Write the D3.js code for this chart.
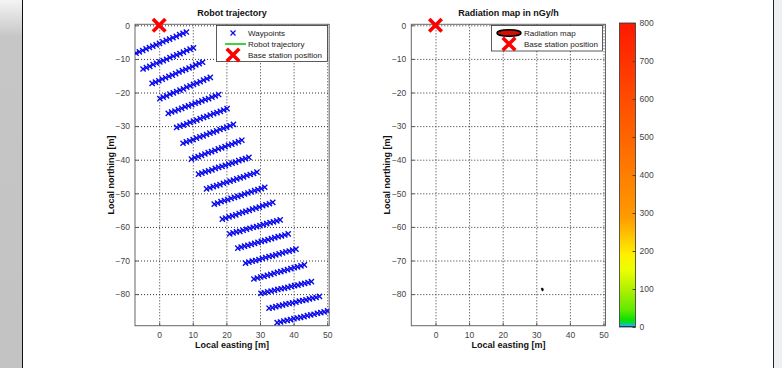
<!DOCTYPE html>
<html>
<head>
<meta charset="utf-8">
<script src="https://cdn.jsdelivr.net/npm/d3@7"></script>
<style>
  body { margin: 0; background: #fff; }
  text { font-family: "Liberation Sans", Arial, sans-serif; }
</style>
</head>
<body>
<script>
// Waypoints, one row per survey lane (easting / northing in m)
const laneEasting = [
  [-6.9,-5.9,-4.9,-3.9,-2.9,-1.9,-0.9,0.1,1.1,2.1,3.1,4.1,5.1,6.1,7.1,8.1],
  [-4.8,-3.8,-2.8,-1.8,-0.8,0.2,1.2,2.2,3.2,4.2,5.2,6.2,7.2,8.2,9.2,10.2],
  [-2.1,-1.1,-0.1,0.9,1.9,2.9,3.9,4.9,5.9,6.9,7.9,8.9,9.9,10.9,11.9,12.9],
  [0.2,1.2,2.2,3.2,4.2,5.2,6.2,7.2,8.2,9.2,10.2,11.2,12.2,13.2,14.2,15.2],
  [2.7,3.7,4.7,5.7,6.7,7.7,8.7,9.7,10.7,11.7,12.7,13.7,14.7,15.7,16.7,17.7],
  [5.2,6.2,7.2,8.2,9.2,10.2,11.2,12.2,13.2,14.2,15.2,16.2,17.2,18.2,19.2,20.2],
  [7.1,8.1,9.1,10.1,11.1,12.1,13.1,14.1,15.1,16.1,17.1,18.1,19.1,20.1,21.1,22.1],
  [9.6,10.6,11.6,12.6,13.6,14.6,15.6,16.6,17.6,18.6,19.6,20.6,21.6,22.6,23.6,24.6],
  [11.7,12.7,13.7,14.7,15.7,16.7,17.7,18.7,19.7,20.7,21.7,22.7,23.7,24.7,25.7,26.7],
  [14.1,15.1,16.1,17.1,18.1,19.1,20.1,21.1,22.1,23.1,24.1,25.1,26.1,27.1,28.1,29.1],
  [16.4,17.4,18.4,19.4,20.4,21.4,22.4,23.4,24.4,25.4,26.4,27.4,28.4,29.4,30.4,31.4],
  [18.8,19.8,20.8,21.8,22.8,23.8,24.8,25.8,26.8,27.8,28.8,29.8,30.8,31.8,32.8,33.8],
  [21.0,22.0,23.0,24.0,25.0,26.0,27.0,28.0,29.0,30.0,31.0,32.0,33.0,34.0,35.0,36.0],
  [23.4,24.4,25.4,26.4,27.4,28.4,29.4,30.4,31.4,32.4,33.4,34.4,35.4,36.4,37.4,38.4],
  [25.7,26.7,27.7,28.7,29.7,30.7,31.7,32.7,33.7,34.7,35.7,36.7,37.7,38.7,39.7,40.7],
  [28.2,29.2,30.2,31.2,32.2,33.2,34.2,35.2,36.2,37.2,38.2,39.2,40.2,41.2,42.2,43.2],
  [30.3,31.3,32.3,33.3,34.3,35.3,36.3,37.3,38.3,39.3,40.3,41.3,42.3,43.3,44.3,45.3],
  [32.7,33.7,34.7,35.7,36.7,37.7,38.7,39.7,40.7,41.7,42.7,43.7,44.7,45.7,46.7,47.7],
  [35.1,36.1,37.1,38.1,39.1,40.1,41.1,42.1,43.1,44.1,45.1,46.1,47.1,48.1,49.1,50.1]
];
const laneNorthing = [
  [-8.3,-7.9,-7.5,-7.0,-6.6,-6.2,-5.8,-5.4,-4.9,-4.5,-4.1,-3.7,-3.3,-2.8,-2.4,-2.0],
  [-13.0,-12.6,-12.2,-11.7,-11.3,-10.9,-10.5,-10.1,-9.6,-9.2,-8.8,-8.4,-8.0,-7.5,-7.1,-6.7],
  [-17.3,-16.9,-16.5,-16.0,-15.6,-15.2,-14.8,-14.4,-13.9,-13.5,-13.1,-12.7,-12.3,-11.8,-11.4,-11.0],
  [-21.8,-21.4,-21.0,-20.5,-20.1,-19.7,-19.3,-18.9,-18.4,-18.0,-17.6,-17.2,-16.8,-16.3,-15.9,-15.5],
  [-26.2,-25.8,-25.5,-25.1,-24.7,-24.3,-24.0,-23.6,-23.2,-22.9,-22.5,-22.1,-21.8,-21.4,-21.0,-20.6],
  [-30.4,-30.0,-29.7,-29.3,-28.9,-28.5,-28.2,-27.8,-27.4,-27.1,-26.7,-26.3,-26.0,-25.6,-25.2,-24.8],
  [-35.1,-34.7,-34.4,-34.0,-33.6,-33.2,-32.9,-32.5,-32.1,-31.8,-31.4,-31.0,-30.7,-30.3,-29.9,-29.5],
  [-39.8,-39.4,-39.1,-38.7,-38.3,-37.9,-37.6,-37.2,-36.8,-36.5,-36.1,-35.7,-35.4,-35.0,-34.6,-34.2],
  [-44.3,-44.0,-43.6,-43.3,-43.0,-42.6,-42.3,-42.0,-41.7,-41.3,-41.0,-40.7,-40.3,-40.0,-39.7,-39.3],
  [-48.7,-48.4,-48.0,-47.7,-47.4,-47.0,-46.7,-46.4,-46.1,-45.7,-45.4,-45.1,-44.7,-44.4,-44.1,-43.7],
  [-53.2,-52.9,-52.5,-52.2,-51.9,-51.5,-51.2,-50.9,-50.6,-50.2,-49.9,-49.6,-49.2,-48.9,-48.6,-48.2],
  [-57.7,-57.4,-57.0,-56.7,-56.4,-56.0,-55.7,-55.4,-55.1,-54.7,-54.4,-54.1,-53.7,-53.4,-53.1,-52.7],
  [-62.1,-61.8,-61.5,-61.3,-61.0,-60.7,-60.4,-60.1,-59.9,-59.6,-59.3,-59.0,-58.7,-58.5,-58.2,-57.9],
  [-66.3,-66.0,-65.7,-65.5,-65.2,-64.9,-64.6,-64.3,-64.1,-63.8,-63.5,-63.2,-62.9,-62.7,-62.4,-62.1],
  [-70.8,-70.5,-70.2,-70.0,-69.7,-69.4,-69.1,-68.8,-68.6,-68.3,-68.0,-67.7,-67.4,-67.2,-66.9,-66.6],
  [-75.5,-75.2,-74.9,-74.7,-74.4,-74.1,-73.8,-73.5,-73.3,-73.0,-72.7,-72.4,-72.1,-71.9,-71.6,-71.3],
  [-79.8,-79.6,-79.3,-79.1,-78.9,-78.6,-78.4,-78.2,-78.0,-77.7,-77.5,-77.3,-77.0,-76.8,-76.6,-76.3],
  [-84.2,-84.0,-83.7,-83.5,-83.3,-83.0,-82.8,-82.6,-82.4,-82.1,-81.9,-81.7,-81.4,-81.2,-81.0,-80.7],
  [-88.5,-88.3,-88.0,-87.8,-87.6,-87.3,-87.1,-86.9,-86.7,-86.4,-86.2,-86.0,-85.7,-85.5,-85.3,-85.0]
];

// Recorded robot trajectory (only the first metres are visible)
const trajectoryE = [-7.3, -6.9, -5.9];
const trajectoryN = [-8.6, -8.3, -7.9];

const baseStationE = 0;
const baseStationN = 0;

// Radiation hotspot contour (tiny blob)
const hotspotE = [31.5, 31.9, 32.1, 31.9, 31.6];
const hotspotN = [-78.3, -78.2, -78.7, -79.1, -78.8];

const xTicks = [0, 10, 20, 30, 40, 50];
const yTicks = [0, -10, -20, -30, -40, -50, -60, -70, -80];
const cbTicks = [0, 100, 200, 300, 400, 500, 600, 700, 800];
const cbStopValues = [0, 4, 10, 20, 45, 100, 150, 190, 240, 290, 400, 500, 600, 700, 800];
const cbStopColors = ["#000a6e", "#2ab0f0", "#00dc40", "#10e000", "#60ea00", "#b2f000",
  "#eaff00", "#fff000", "#ffc400", "#ff9a00", "#ff7e00", "#ff6400", "#ff4c00", "#ff3200", "#ff1800"];

const W = 782, H = 368;
const svg = d3.select("body").append("svg")
  .attr("width", W).attr("height", H);

// page frame
const defs = svg.append("defs");
const fade = defs.append("linearGradient").attr("id", "fade")
  .attr("x1", 0).attr("y1", 0).attr("x2", 0).attr("y2", 1);
fade.append("stop").attr("offset", 0).attr("stop-color", "#f4f4f4");
fade.append("stop").attr("offset", 0.1).attr("stop-color", "#c6c6c6");
fade.append("stop").attr("offset", 1).attr("stop-color", "#c3c3c3");
svg.append("rect").attr("x", 0).attr("y", 0).attr("width", 22).attr("height", H).attr("fill", "url(#fade)");
svg.append("line").attr("x1", 22.5).attr("x2", 22.5).attr("y1", 0).attr("y2", H).attr("stroke", "#111");
svg.append("rect").attr("x", 774).attr("y", 0).attr("width", 8).attr("height", H).attr("fill", "#eff0f2");
svg.append("line").attr("x1", 773.5).attr("x2", 773.5).attr("y1", 0).attr("y2", H).attr("stroke", "#222");

const xDomain = [-7.2, 50.6];
const yDomain = [0.3, -89.4];
const axTop = 24.3, axBottom = 325.7;

const crossPath = s => `M${-s},${-s}L${s},${s}M${-s},${s}L${s},${-s}`;

function drawAxes(left, right, title) {
  const x = d3.scaleLinear().domain(xDomain).range([left, right]);
  const y = d3.scaleLinear().domain(yDomain).range([axTop, axBottom]);
  const g = svg.append("g");

  g.append("rect").attr("x", left).attr("y", axTop)
    .attr("width", right - left).attr("height", axBottom - axTop).attr("fill", "#fff");

  // dotted grid
  g.append("g").selectAll("line").data(xTicks).join("line")
    .attr("x1", d => x(d) + 0.5).attr("x2", d => x(d) + 0.5)
    .attr("y1", axTop).attr("y2", axBottom)
    .attr("stroke", "#333").attr("stroke-dasharray", "1,2");
  g.append("g").selectAll("line").data(yTicks).join("line")
    .attr("y1", d => y(d) + 0.5).attr("y2", d => y(d) + 0.5)
    .attr("x1", left).attr("x2", right)
    .attr("stroke", "#333").attr("stroke-dasharray", "1,2");

  const xAxis = g.append("g").attr("transform", `translate(0,${axBottom})`)
    .call(d3.axisBottom(x).tickValues(xTicks).tickSizeInner(-3).tickSizeOuter(0).tickPadding(6));
  const yAxis = g.append("g").attr("transform", `translate(${left},0)`)
    .call(d3.axisLeft(y).tickValues(yTicks).tickSizeInner(-3).tickSizeOuter(0).tickPadding(5));
  [xAxis, yAxis].forEach(a => {
    a.select(".domain").remove();
    a.selectAll("line").attr("stroke", "#555");
    a.selectAll("text").attr("font-size", 8.5).attr("fill", "#444")
      .attr("font-family", "Liberation Sans, Arial, sans-serif");
  });

  g.append("rect").attr("x", left).attr("y", axTop)
    .attr("width", right - left).attr("height", axBottom - axTop)
    .attr("fill", "none").attr("stroke", "#666").attr("stroke-width", 1);

  const cx = (left + right) / 2;
  g.append("text").attr("x", cx).attr("y", 16).attr("text-anchor", "middle")
    .attr("font-size", 9).attr("font-weight", "bold").attr("fill", "#111").text(title);
  g.append("text").attr("x", cx).attr("y", 348).attr("text-anchor", "middle")
    .attr("font-size", 9).attr("font-weight", "bold").attr("fill", "#111").text("Local easting [m]");
  g.append("text").attr("transform", `translate(${left - 21},${(axTop + axBottom) / 2}) rotate(-90)`)
    .attr("text-anchor", "middle").attr("font-size", 9).attr("font-weight", "bold")
    .attr("fill", "#111").text("Local northing [m]");

  const clipId = "clip" + Math.round(left);
  defs.append("clipPath").attr("id", clipId).append("rect")
    .attr("x", left).attr("y", axTop).attr("width", right - left).attr("height", axBottom - axTop);
  const plot = g.append("g").attr("clip-path", `url(#${clipId})`);
  return { x, y, g, plot };
}

function baseStationMark(sel, px, py) {
  sel.append("path").attr("transform", `translate(${px},${py})`)
    .attr("d", crossPath(5)).attr("stroke", "#ff0000").attr("stroke-width", 3.6)
    .attr("stroke-linecap", "square").attr("fill", "none");
}

// ---- Left: robot trajectory
const A = drawAxes(135, 329.2, "Robot trajectory");

const line = d3.line().x(d => A.x(d[0])).y(d => A.y(d[1]));
A.plot.append("path").datum(trajectoryE.map((e, i) => [e, trajectoryN[i]]))
  .attr("d", line).attr("fill", "none").attr("stroke", "#00c000").attr("stroke-width", 1.5);

const waypoints = laneEasting.flatMap((row, r) => row.map((e, i) => [e, laneNorthing[r][i]]));
A.plot.append("g").selectAll("path").data(waypoints).join("path")
  .attr("transform", d => `translate(${A.x(d[0])},${A.y(d[1])})`)
  .attr("d", crossPath(2.6)).attr("stroke", "#0a0aee").attr("stroke-width", 1.4).attr("fill", "none");

baseStationMark(svg, A.x(baseStationE), A.y(baseStationN));

// left legend
const lg = svg.append("g");
lg.append("rect").attr("x", 216.5).attr("y", 25.5).attr("width", 111).attr("height", 36)
  .attr("fill", "#fff").attr("stroke", "#333").attr("stroke-width", 0.8);
lg.append("path").attr("transform", "translate(233,33)").attr("d", crossPath(2.5))
  .attr("stroke", "#0a0aee").attr("stroke-width", 1.2);
lg.append("line").attr("x1", 225).attr("x2", 246).attr("y1", 44).attr("y2", 44)
  .attr("stroke", "#00c000").attr("stroke-width", 1.5);
baseStationMark(lg, 233, 55);
[["Waypoints", 36], ["Robot trajectory", 47], ["Base station position", 58]].forEach(([t, yy]) =>
  lg.append("text").attr("x", 248).attr("y", yy).attr("font-size", 8).attr("fill", "#222").text(t));

// ---- Right: radiation map
const B = drawAxes(411.3, 605.5, "Radiation map in nGy/h");
const blob = d3.line().curve(d3.curveCardinalClosed).x(d => B.x(d[0])).y(d => B.y(d[1]));
B.plot.append("path").datum(hotspotE.map((e, i) => [e, hotspotN[i]]))
  .attr("d", blob).attr("fill", "#000").attr("stroke", "#000").attr("stroke-width", 0.6);
baseStationMark(svg, B.x(baseStationE), B.y(baseStationN));

const rg = svg.append("g");
rg.append("rect").attr("x", 491.5).attr("y", 25.5).attr("width", 111).attr("height", 25.5)
  .attr("fill", "#fff").attr("stroke", "#333").attr("stroke-width", 0.8);
rg.append("ellipse").attr("cx", 509).attr("cy", 33).attr("rx", 12).attr("ry", 3.2)
  .attr("fill", "#d01000").attr("stroke", "#000").attr("stroke-width", 1.6);
baseStationMark(rg, 509, 44);
[["Radiation map", 36], ["Base station position", 47]].forEach(([t, yy]) =>
  rg.append("text").attr("x", 524).attr("y", yy).attr("font-size", 8).attr("fill", "#222").text(t));

// ---- Colorbar
const cb = d3.scaleLinear().domain([0, 800]).range([327, 23]);
const grad = defs.append("linearGradient").attr("id", "cmap")
  .attr("x1", 0).attr("y1", 1).attr("x2", 0).attr("y2", 0);
cbStopValues.forEach((v, i) =>
  grad.append("stop").attr("offset", v / 800).attr("stop-color", cbStopColors[i]));
const cbL = 619.5, cbR = 635.5;
svg.append("rect").attr("x", cbL).attr("y", cb(800)).attr("width", cbR - cbL)
  .attr("height", cb(0) - cb(800)).attr("fill", "url(#cmap)")
  .attr("stroke", "#333").attr("stroke-width", 0.8);
const cbAxis = svg.append("g").attr("transform", `translate(${cbR},0)`)
  .call(d3.axisRight(cb).tickValues(cbTicks).tickSizeInner(-3).tickSizeOuter(0).tickPadding(4));
cbAxis.select(".domain").remove();
cbAxis.selectAll("line").attr("stroke", "#444");
cbAxis.selectAll("text").attr("font-size", 8.5).attr("fill", "#444")
  .attr("font-family", "Liberation Sans, Arial, sans-serif");
</script>
</body>
</html>
